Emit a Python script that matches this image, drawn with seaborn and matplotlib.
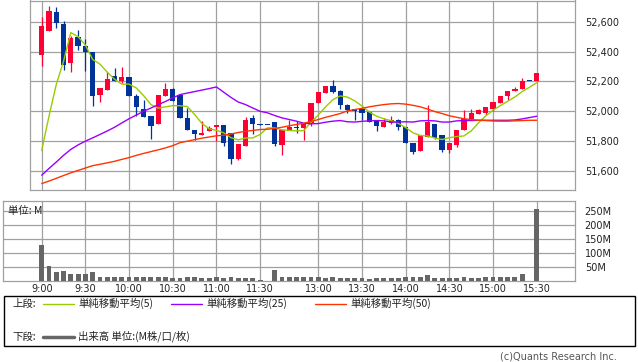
import matplotlib
matplotlib.use("Agg")
import matplotlib.pyplot as plt
import seaborn as sns
import pandas as pd
from matplotlib.patches import Rectangle

# 5-minute bars, 9:00-11:30, one empty slot, 12:30-15:30
tick_pos = [0, 6, 12, 18, 24, 30, 38, 44, 50, 56, 62, 68]
tick_labels = ["9:00", "9:30", "10:00", "10:30", "11:00", "11:30",
               "13:00", "13:30", "14:00", "14:30", "15:00", "15:30"]

opens = [52378, 52540, 52663, 52585, 52323, 52496, 52438, 52394, 52107, 52145,
         52238, 52200, 52230, 52105, 52018, 51967, 51916, 52105, 52150, 52107,
         51956, 51874, 51838, 51867, 51894, 51907, 51852, 51678, 51767, 51956,
         51918, 51907, 51927, 51772, 51878, 51898, 51885, 51925, 52055, 52123,
         52167, 52134, 52040, 52018, 52018, 51994, 51938, 51894, 51923, 51945,
         51896, 51790, 51734, 51830, 51918, 51838, 51740, 51772, 51874, 51950,
         51985, 51990, 52016, 52056, 52100, 52134, 52150, 52205, 52200]
highs = [52634, 52705, 52700, 52603, 52507, 52545, 52485, 52394, 52158, 52260,
         52290, 52300, 52230, 52116, 52078, 51967, 52112, 52190, 52157, 52110,
         52023, 51874, 51938, 51900, 51907, 51907, 51852, 51778, 51963, 51978,
         51918, 51907, 51927, 51878, 51940, 51938, 51916, 52055, 52127, 52167,
         52212, 52140, 52050, 52018, 52018, 52000, 51938, 51956, 51967, 51950,
         51896, 51790, 51838, 52040, 51918, 51838, 51785, 51878, 52012, 52016,
         52016, 52027, 52060, 52105, 52138, 52163, 52225, 52205, 52256]
lows = [52305, 52540, 52556, 52278, 52260, 52412, 52267, 52038, 52060, 52145,
        52200, 52190, 52105, 51967, 51963, 51812, 51916, 52105, 52067, 51954,
        51874, 51807, 51838, 51867, 51800, 51767, 51650, 51672, 51767, 51845,
        51905, 51907, 51767, 51705, 51878, 51856, 51807, 51900, 52055, 52123,
        52125, 52018, 51990, 51945, 51945, 51927, 51867, 51894, 51918, 51874,
        51790, 51712, 51734, 51830, 51812, 51727, 51723, 51763, 51874, 51950,
        51985, 51972, 52000, 52056, 52078, 52134, 52150, 52205, 52200]
closes = [52572, 52672, 52590, 52312, 52490, 52434, 52394, 52105, 52158, 52218,
          52200, 52230, 52105, 52027, 51963, 51900, 52112, 52150, 52067, 51954,
          51878, 51845, 51852, 51885, 51907, 51790, 51683, 51778, 51945, 51912,
          51905, 51907, 51778, 51878, 51894, 51887, 51916, 52055, 52127, 52167,
          52127, 52040, 52012, 52005, 51990, 51927, 51900, 51927, 51943, 51894,
          51790, 51727, 51838, 51927, 51823, 51740, 51785, 51878, 51950, 51990,
          52007, 52027, 52060, 52105, 52138, 52152, 52205, 52205, 52256]

ma5 = [51738, 51967, 52179, 52335, 52527, 52500, 52444, 52347, 52316, 52262,
       52215, 52182, 52182, 52156, 52105, 52045, 52021, 52030, 52038, 52037,
       52032, 51979, 51919, 51883, 51873, 51856, 51823, 51809, 51821, 51822,
       51845, 51889, 51889, 51876, 51872, 51869, 51871, 51926, 51976, 52030,
       52078, 52103, 52095, 52070, 52035, 51995, 51967, 51950, 51937, 51918,
       51891, 51856, 51838, 51835, 51821, 51811, 51823, 51831, 51835, 51869,
       51922, 51970, 52007, 52038, 52067, 52096, 52132, 52161, 52191]
ma25 = [51572, 51617, 51660, 51705, 51745, 51775, 51800, 51822, 51845, 51868,
        51893, 51922, 51950, 51975, 52000, 52022, 52044, 52066, 52090, 52112,
        52122, 52132, 52142, 52152, 52163, 52128, 52093, 52062, 52045, 52022,
        52000, 51990, 51972, 51956, 51945, 51934, 51920, 51916, 51918, 51927,
        51934, 51938, 51930, 51928, 51933, 51936, 51938, 51936, 51928, 51928,
        51930, 51928, 51936, 51938, 51936, 51928, 51928, 51936, 51938, 51938,
        51940, 51940, 51940, 51940, 51940, 51942, 51949, 51958, 51967]
ma50 = [51516, 51533, 51551, 51570, 51588, 51604, 51620, 51636, 51645, 51655,
        51665, 51678, 51690, 51705, 51718, 51730, 51742, 51755, 51770, 51790,
        51800, 51810, 51820, 51828, 51836, 51840, 51848, 51858, 51866, 51872,
        51878, 51880, 51885, 51893, 51903, 51912, 51920, 51932, 51945, 51960,
        51972, 51985, 52003, 52012, 52020, 52030, 52038, 52045, 52050, 52052,
        52048, 52040, 52030, 52015, 51998, 51985, 51970, 51960, 51950, 51945,
        51940, 51938, 51935, 51934, 51934, 51936, 51938, 51940, 51940]

volume = [129, 52, 31, 34, 24, 24, 24, 31, 16, 16, 14, 16, 16, 16, 14, 16,
          14, 14, 11, 11, 13, 13, 11, 11, 13, 11, 13, 11, 11, 11, 2,
          0,
          38, 14, 14, 14, 14, 14, 14, 12, 14, 12, 11, 11, 11, 7, 11, 11,
          11, 11, 13, 13, 13, 20, 11, 11, 11, 11, 13, 11, 11, 13, 16, 13,
          13, 16, 24,
          0, 259]

df = pd.DataFrame({"idx": range(len(closes)), "open": opens, "high": highs,
                   "low": lows, "close": closes, "ma5": ma5, "ma25": ma25,
                   "ma50": ma50, "volume": volume})

UP, DOWN = "#ff0033", "#003399"
GRID = "#a0a0a0"
JP = ["Noto Sans CJK JP", "DejaVu Sans"]

sns.set_style("white")
plt.rcParams["font.family"] = ["DejaVu Sans", "Noto Sans CJK JP"]

W, H = 638, 362
fig = plt.figure(figsize=(W / 100, H / 100), dpi=100)


def px_axes(x0, y0, x1, y1):
    return fig.add_axes([x0 / W, 1 - y1 / H, (x1 - x0) / W, (y1 - y0) / H])


def px_to_idx(x):
    return (x - 41.7) / 7.28


ax = px_axes(30, 0.5, 575, 190)
axv = px_axes(3, 201, 575, 281)

for a in (ax, axv):
    a.set_axisbelow(True)
    a.grid(True, color=GRID, lw=0.9)
    for s in a.spines.values():
        s.set_color(GRID)
        s.set_linewidth(0.9)
    a.tick_params(length=0, labelsize=7, colors="#222222")

# candles
colors = [UP if c > o else DOWN for o, c in zip(df["open"], df["close"])]
body_lo = df[["open", "close"]].min(axis=1)
body_h = (df["close"] - df["open"]).abs().clip(lower=6)
ax.vlines(df["idx"], df["low"], df["high"], colors=colors, lw=0.9, zorder=2)
ax.bar(df["idx"], body_h, bottom=body_lo, width=0.72, color=colors,
       linewidth=0, edgecolor="none", zorder=3)

# moving averages
sns.lineplot(data=df, x="idx", y="ma5", color="#99cc00", lw=1, ax=ax, zorder=4)
sns.lineplot(data=df, x="idx", y="ma25", color="#9900ff", lw=1, ax=ax, zorder=4)
sns.lineplot(data=df, x="idx", y="ma50", color="#ff3300", lw=1, ax=ax, zorder=4)

ax.set_xlim(px_to_idx(30), px_to_idx(575))
ax.set_ylim(51473, 52742)
ax.set_xticks(tick_pos)
ax.set_xticklabels([])
ax.set_yticks(range(51600, 52601, 200))
ax.yaxis.tick_right()
ax.set_yticklabels([f"{v:,}" for v in range(51600, 52601, 200)])
ax.tick_params(axis="y", pad=7)
ax.set_xlabel("")
ax.set_ylabel("")

# volume
sns.barplot(data=df, x="idx", y="volume", native_scale=True, color="#666666",
            saturation=1, width=0.66, errorbar=None, linewidth=0,
            edgecolor="none", ax=axv, zorder=3)
axv.set_xlim(px_to_idx(3), px_to_idx(575))
axv.set_ylim(0, 286)
axv.set_xticks(tick_pos)
axv.set_xticklabels(tick_labels)
axv.set_yticks([50, 100, 150, 200, 250])
axv.yaxis.tick_right()
axv.set_yticklabels(["50M", "100M", "150M", "200M", "250M"])
axv.tick_params(axis="y", pad=7)
axv.tick_params(axis="x", pad=2)
axv.set_xlabel("")
axv.set_ylabel("")
axv.text(0.009, 0.88, "単位: M", transform=axv.transAxes, fontsize=7.5,
         family=JP, va="center", ha="left", color="#222222")

# legend box and footer, in pixel space
ov = fig.add_axes([0, 0, 1, 1])
ov.set_xlim(0, W)
ov.set_ylim(H, 0)
ov.axis("off")
ov.add_patch(Rectangle((3.5, 296), 631.5, 50, fill=False, ec="black", lw=1))
fs = 7.5
ov.text(12, 303.5, "上段:", fontsize=fs, family=JP, va="center", color="#222222")
for x0, col, lab in [(43, "#99cc00", "単純移動平均(5)"),
                     (171, "#9900ff", "単純移動平均(25)"),
                     (315, "#ff3300", "単純移動平均(50)")]:
    ov.plot([x0, x0 + 31], [303.5, 303.5], color=col, lw=1)
    ov.text(x0 + 35, 303.5, lab, fontsize=fs, family=JP, va="center", color="#222222")
ov.text(12, 336.5, "下段:", fontsize=fs, family=JP, va="center", color="#222222")
ov.plot([43, 74], [336.5, 336.5], color="#666666", lw=2.5)
ov.text(78, 336.5, "出来高 単位:(M株/口/枚)", fontsize=fs, family=JP,
        va="center", color="#222222")
ov.text(617, 356.5, "(c)Quants Research Inc.", fontsize=7, ha="right",
        va="center", color="#555555")

fig.savefig("out.png", dpi=100)
